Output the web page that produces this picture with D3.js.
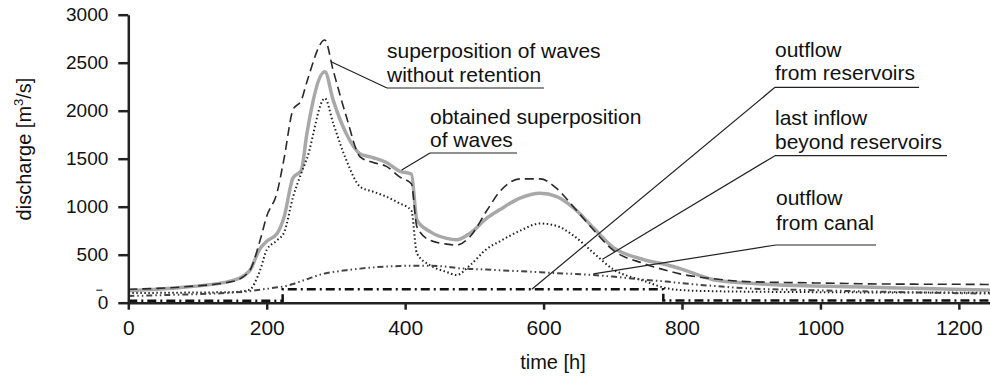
<!DOCTYPE html>
<html>
<head>
  <meta charset="utf-8">
  <title>Discharge hydrographs</title>
  <script src="https://cdn.jsdelivr.net/npm/d3@7"></script>
  <style>
    body { margin: 0; background: #fff; }
    svg text { font-family: "Liberation Sans", Arial, sans-serif; fill: #111; }
  </style>
</head>
<body>
<script>

// time axis shared by the four smooth hydrographs [h]
var hours = [0, 80, 150, 175, 190, 200, 215, 225, 238, 250, 258, 284, 296, 315, 335, 354, 373, 392, 409, 417,
  436, 460, 474, 494, 518, 537, 566, 595, 619, 643, 672, 700, 744, 778, 797, 845, 893, 941, 989, 1038,
  1086, 1134, 1190, 1245];

// superposition of waves without retention (dashed)
var withoutRetention = [140, 165, 220, 330, 640, 900, 1150, 1500, 2010, 2110, 2300, 2736, 2420, 1940, 1520, 1460, 1420, 1310, 1240, 790,
  650, 610, 600, 690, 960, 1160, 1290, 1290, 1190, 1000, 760, 550, 410, 335, 300, 250, 220, 212, 206, 200,
  195, 193, 192, 190];

// obtained superposition of waves (thick grey)
var obtained = [125, 160, 230, 330, 560, 640, 720, 890, 1300, 1380, 1760, 2405, 2110, 1760, 1550, 1510, 1460, 1370, 1340, 860,
  740, 670, 655, 725, 880, 970, 1090, 1140, 1105, 990, 780, 580, 450, 395, 355, 240, 205, 185, 175, 167,
  158, 150, 140, 132];

// last inflow beyond reservoirs (dotted)
var lastInflow = [100, 105, 110, 135, 330, 550, 650, 730, 1100, 1350, 1500, 2129, 1870, 1486, 1208, 1156, 1104, 1035, 960, 514,
  390, 320, 288, 392, 560, 640, 750, 825, 800, 700, 520, 350, 230, 150, 132, 120, 115, 112, 110, 108,
  107, 106, 105, 104];

// outflow from canal (dash-dot-dot)
var canal = [70, 85, 105, 120, 135, 145, 160, 170, 195, 225, 245, 305, 320, 338, 355, 368, 377, 382, 385, 385,
  385, 375, 362, 352, 345, 338, 328, 318, 308, 300, 288, 272, 240, 220, 205, 175, 150, 138, 130, 122,
  115, 108, 100, 95];

// outflow from reservoirs (dash-dot), piecewise constant
var reservoirHours = [0, 223, 223, 773, 773, 1245];
var reservoirFlow = [20, 20, 140, 140, 22, 22];

var xTicks = [0, 200, 400, 600, 800, 1000, 1200];
var yTicks = [0, 500, 1000, 1500, 2000, 2500, 3000];

// callouts: text lines, target point on a curve [h, m3/s]
var notes = [
  { lines: ["superposition of waves", "without retention"], at: [293, 2510], x: 387, y: 57.5, lead: 24, under: 88, len: 157 },
  { lines: ["obtained superposition", "of waves"], at: [395, 1382], x: 430, y: 123.5, lead: 23.5, under: 153, len: 87 },
  { lines: ["outflow", "from reservoirs"], at: [583, 140], x: 775, y: 57, lead: 23, under: 87.3, len: 144 },
  { lines: ["last inflow", "beyond reservoirs"], at: [685, 452], x: 775, y: 125, lead: 23.5, under: 155.7, len: 172 },
  { lines: ["outflow", "from canal"], at: [672, 300], x: 776, y: 205, lead: 25, under: 245, len: 100 }
];

var width = 990, height = 377;

var svg = d3.select("body").append("svg")
    .attr("width", width)
    .attr("height", height);

var x = d3.scaleLinear().domain([0, 1245]).range([128.3, 990]);
var y = d3.scaleLinear().domain([0, 3000]).range([302.7, 14.7]);

function series(vals) {
  return hours.map(function(h, i) { return [h, vals[i]]; });
}

var smooth = d3.line()
    .x(function(d) { return x(d[0]); })
    .y(function(d) { return y(d[1]); })
    .curve(d3.curveMonotoneX);

var straight = d3.line()
    .x(function(d) { return x(d[0]); })
    .y(function(d) { return y(d[1]); });

// grey first, the dashed line runs over it
svg.append("path")
    .attr("d", smooth(series(obtained)))
    .attr("fill", "none")
    .attr("stroke", "#a8a8a8")
    .attr("stroke-width", 3.5);

svg.append("path")
    .attr("d", smooth(series(withoutRetention)))
    .attr("fill", "none")
    .attr("stroke", "#2a2a2a")
    .attr("stroke-width", 1.6)
    .attr("stroke-dasharray", "9,5");

svg.append("path")
    .attr("d", smooth(series(lastInflow)))
    .attr("fill", "none")
    .attr("stroke", "#222")
    .attr("stroke-width", 2)
    .attr("stroke-dasharray", "1.5,2.5");

svg.append("path")
    .attr("d", smooth(series(canal)))
    .attr("fill", "none")
    .attr("stroke", "#444")
    .attr("stroke-width", 2)
    .attr("stroke-dasharray", "6,3,1.5,3,1.5,3");

svg.append("path")
    .attr("d", straight(reservoirHours.map(function(h, i) { return [h, reservoirFlow[i]]; })))
    .attr("fill", "none")
    .attr("stroke", "#111")
    .attr("stroke-width", 2.5)
    .attr("stroke-dasharray", "9,4,2,4");

// axes
var yAxis = svg.append("g")
    .attr("transform", "translate(" + x(0) + ",0)")
    .call(d3.axisLeft(y).tickValues(yTicks).tickFormat(d3.format("d"))
      .tickSize(10).tickSizeOuter(0).tickPadding(10));
yAxis.selectAll("text")
    .style("font-family", "'Liberation Sans', Arial, sans-serif")
    .style("font-size", "19px");

var xAxis = svg.append("g")
    .attr("transform", "translate(0," + y(0) + ")")
    .call(d3.axisBottom(x).tickValues(xTicks).tickFormat(d3.format("d"))
      .tickSize(7).tickSizeOuter(0).tickPadding(10));
xAxis.selectAll("text")
    .style("font-family", "'Liberation Sans', Arial, sans-serif")
    .style("font-size", "21px");

svg.selectAll(".domain, .tick line")
    .attr("stroke", "#222")
    .attr("stroke-width", 2.5);

// stray dash beside the zero label
svg.append("line")
    .attr("x1", x(0) - 32).attr("x2", x(0) - 26)
    .attr("y1", y(130)).attr("y2", y(130))
    .attr("stroke", "#333").attr("stroke-width", 1.2);

svg.append("text")
    .attr("x", 553)
    .attr("y", 369)
    .attr("text-anchor", "middle")
    .style("font-size", "20px")
    .text("time [h]");

var yl = svg.append("text")
    .attr("transform", "translate(31,149) rotate(-90)")
    .attr("text-anchor", "middle")
    .style("font-size", "20px");
yl.append("tspan").text("discharge [m");
yl.append("tspan").attr("dy", -8).style("font-size", "13px").text("3");
yl.append("tspan").attr("dy", 8).text("/s]");

// callouts
notes.forEach(function(n) {
  var g = svg.append("g");
  n.lines.forEach(function(t, i) {
    g.append("text")
      .attr("x", n.x)
      .attr("y", n.y + i * n.lead)
      .style("font-size", "21px")
      .text(t);
  });
  g.append("line")
    .attr("x1", n.x).attr("y1", n.under)
    .attr("x2", n.x + n.len).attr("y2", n.under)
    .attr("stroke", "#222").attr("stroke-width", 1.2);
  g.append("line")
    .attr("x1", n.x).attr("y1", n.under)
    .attr("x2", x(n.at[0])).attr("y2", y(n.at[1]))
    .attr("stroke", "#222").attr("stroke-width", 1.2);
});

</script>
</body>
</html>
